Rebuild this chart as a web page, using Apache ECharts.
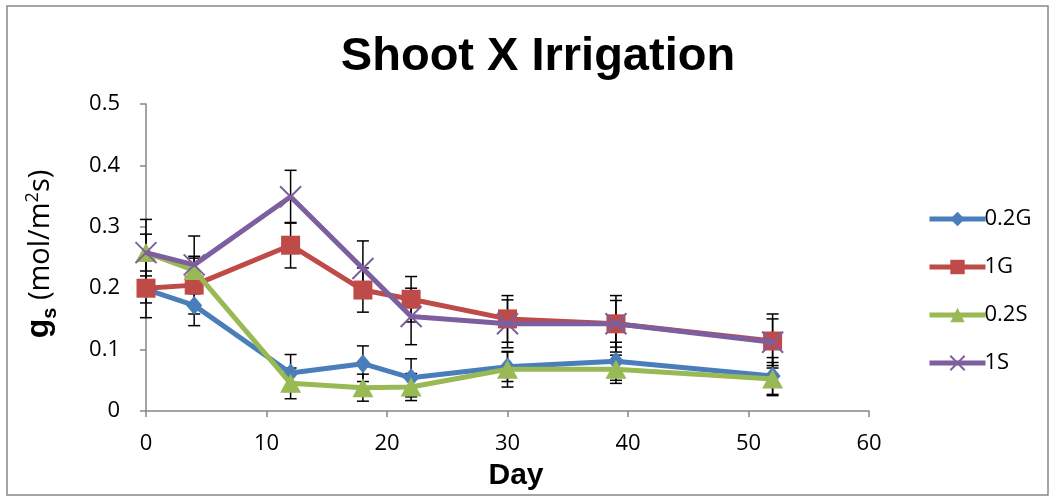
<!DOCTYPE html>
<html>
<head>
<meta charset="utf-8">
<script src="https://cdn.jsdelivr.net/npm/echarts@6/dist/echarts.min.js"></script>
<style>
html,body{margin:0;padding:0;background:#fff;}
#chart{width:1051px;height:497px;}
</style>
</head>
<body>
<div id="chart"></div>
<script>
var days = [0, 4, 12, 18, 22, 30, 39, 52];
var seriesNames = ['0.2G', '1G', '0.2S', '1S'];
var vals02G = [0.198, 0.172, 0.062, 0.077, 0.054, 0.072, 0.081, 0.057];
var err02G  = [0.022, 0.033, 0.030, 0.029, 0.031, 0.024, 0.031, 0.030];
var vals1G  = [0.200, 0.205, 0.270, 0.197, 0.182, 0.150, 0.142, 0.114];
var err1G   = [0.048, 0.047, 0.037, 0.036, 0.037, 0.038, 0.046, 0.044];
var vals02S = [0.258, 0.229, 0.045, 0.038, 0.039, 0.068, 0.068, 0.052];
var err02S  = [0.030, 0.020, 0.025, 0.022, 0.022, 0.029, 0.023, 0.027];
var vals1S  = [0.258, 0.238, 0.349, 0.232, 0.154, 0.142, 0.142, 0.112];
var err1S   = [0.054, 0.047, 0.043, 0.045, 0.046, 0.039, 0.038, 0.038];
var yTicks = [0, 0.1, 0.2, 0.3, 0.4, 0.5];
var xTicks = [0, 10, 20, 30, 40, 50, 60];

var colors = ['#4A7EBB', '#BE4B48', '#98B954', '#7D5FA0'];
var allVals = [vals02G, vals1G, vals02S, vals1S];
var allErr = [err02G, err1G, err02S, err1S];
var symbols = ['diamond', 'rect', 'triangle', 'path://M0,0L10,10M10,0L0,10'];
var symbolSizes = [[16, 19], 19, [21, 19], 21];

var series = [];
allVals.forEach(function (v, i) {
  series.push({
    type: 'custom',
    name: seriesNames[i] + ' err',
    z: 2,
    silent: true,
    data: days.map(function (d, k) { return [d, v[k] - allErr[i][k], v[k] + allErr[i][k]]; }),
    renderItem: function (params, api) {
      var x = api.value(0);
      var lo = api.coord([x, api.value(1)]);
      var hi = api.coord([x, api.value(2)]);
      var w = 6;
      var st = { stroke: '#000', lineWidth: 1.5 };
      return {
        type: 'group',
        children: [
          { type: 'line', shape: { x1: lo[0], y1: lo[1], x2: hi[0], y2: hi[1] }, style: st },
          { type: 'line', shape: { x1: lo[0] - w, y1: lo[1], x2: lo[0] + w, y2: lo[1] }, style: st },
          { type: 'line', shape: { x1: hi[0] - w, y1: hi[1], x2: hi[0] + w, y2: hi[1] }, style: st }
        ]
      };
    }
  });
});
allVals.forEach(function (v, i) {
  var isCross = i === 3;
  series.push({
    type: 'line',
    name: seriesNames[i],
    z: 3 + i,
    data: days.map(function (d, k) { return [d, v[k]]; }),
    symbol: symbols[i],
    symbolSize: symbolSizes[i],
    showAllSymbol: true,
    lineStyle: { color: colors[i], width: 5 },
    itemStyle: isCross ? { color: 'none', borderColor: colors[i], borderWidth: 2 } : { color: colors[i], borderWidth: 0 },
    emphasis: { disabled: true },
    animation: false
  });
});

var chart = echarts.init(document.getElementById('chart'), null, { renderer: 'canvas' });
chart.setOption({
  animation: false,
  backgroundColor: '#fff',
  title: {
    text: 'Shoot X Irrigation',
    left: 533, top: 29,
    textAlign: 'center',
    textStyle: { fontFamily: 'Liberation Sans', fontWeight: 'bold', fontSize: 47, color: '#000' }
  },
  grid: { left: 146, right: 182, top: 104, bottom: 86, containLabel: false },
  legend: {
    data: seriesNames,
    orient: 'vertical',
    left: 922, top: 203,
    itemWidth: 56, itemHeight: 18,
    itemGap: 26,
    lineStyle: { width: 5 },
    textStyle: { fontFamily: 'Open Sans', fontSize: 22, color: '#000', padding: [0, 0, 0, -6] },
    selectedMode: false
  },
  xAxis: {
    type: 'value', min: 0, max: 60, interval: 10,
    axisLine: { show: true, lineStyle: { color: '#868686', width: 1.5 } },
    axisTick: { show: true, inside: false, length: 6, lineStyle: { color: '#868686', width: 1.5 } },
    splitLine: { show: false },
    axisLabel: { fontFamily: 'Open Sans', fontSize: 22, color: '#000', margin: 22 }
  },
  yAxis: {
    type: 'value', min: 0, max: 0.5, interval: 0.1,
    axisLine: { show: true, lineStyle: { color: '#868686', width: 1.5 } },
    axisTick: { show: true, inside: false, length: 6, lineStyle: { color: '#868686', width: 1.5 } },
    splitLine: { show: false },
    axisLabel: { fontFamily: 'Open Sans', fontSize: 22, color: '#000', margin: 26,
      formatter: function (v) { return String(Math.round(v * 10) / 10); } }
  },
  graphic: [
    { type: 'rect', shape: { x: 7, y: 6, width: 1041, height: 489 }, style: { fill: 'none', stroke: '#888', lineWidth: 1.5 }, z: -1, silent: true },
    { type: 'text', x: 516, y: 476, style: { text: 'Day', fontFamily: 'Liberation Sans', fontWeight: 'bold', fontSize: 30, fill: '#000', align: 'center', verticalAlign: 'middle' } },
    { type: 'text', x: 39, y: 254, rotation: Math.PI / 2,
      style: {
        text: '{g|g}{s|s}{n| (mol/m}{sup|2}{n|s)}',
        align: 'center', verticalAlign: 'middle',
        rich: {
          g: { fontFamily: 'Liberation Sans', fontWeight: 'bold', fontSize: 32, fill: '#000', verticalAlign: 'bottom' },
          s: { fontFamily: 'Liberation Sans', fontWeight: 'bold', fontSize: 20, fill: '#000', verticalAlign: 'bottom', padding: [0, 0, -5, 0] },
          n: { fontFamily: 'Open Sans', fontSize: 29, fill: '#000', verticalAlign: 'bottom' },
          sup: { fontFamily: 'Open Sans', fontSize: 18, fill: '#000', verticalAlign: 'bottom', padding: [0, 0, 13, 0] }
        }
      } }
  ],
  series: series
});
</script>
</body>
</html>
